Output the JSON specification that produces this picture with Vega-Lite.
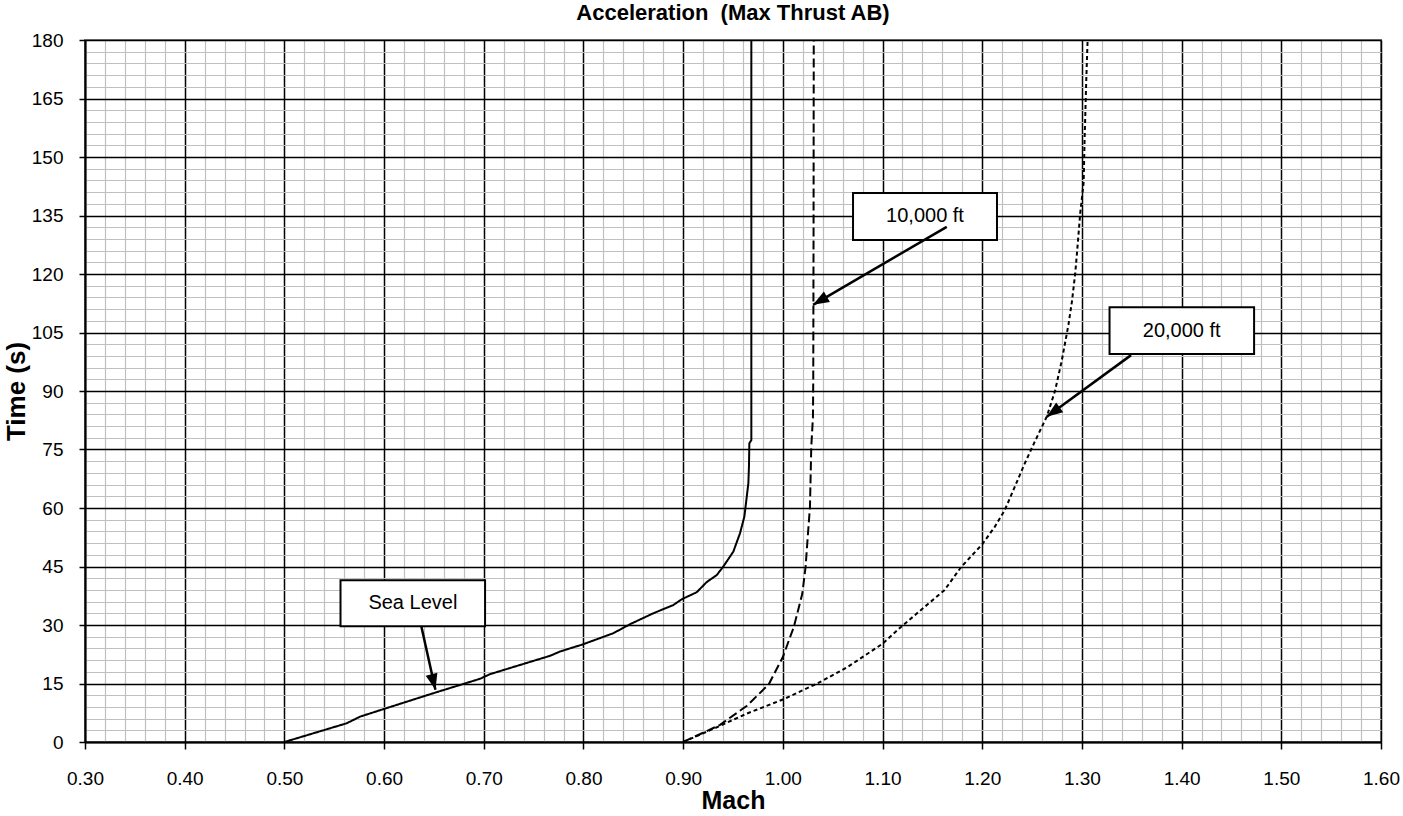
{
  "$schema": "https://vega.github.io/schema/vega-lite/v6.json",
  "width": 1296,
  "height": 702,
  "autosize": {"type": "none"},
  "padding": {"left": 85, "top": 40, "right": 22, "bottom": 74},
  "background": "white",
  "config": {
    "view": {"stroke": "#808080", "strokeWidth": 2},
    "font": "Liberation Sans"
  },
  "title": {
    "text": "Acceleration \u00a0(Max Thrust AB)",
    "font": "Liberation Sans",
    "fontSize": 22,
    "fontWeight": "bold",
    "color": "black",
    "anchor": "middle",
    "frame": "group",
    "offset": 6
  },
  "datasets": {
    "curves": [
      {"series": "Sea Level", "mach": 0.50, "t": 0},
      {"series": "Sea Level", "mach": 0.5625, "t": 4.8},
      {"series": "Sea Level", "mach": 0.5759, "t": 6.5},
      {"series": "Sea Level", "mach": 0.599, "t": 8.4},
      {"series": "Sea Level", "mach": 0.653, "t": 12.8},
      {"series": "Sea Level", "mach": 0.6962, "t": 16.2},
      {"series": "Sea Level", "mach": 0.7063, "t": 17.4},
      {"series": "Sea Level", "mach": 0.7665, "t": 22.1},
      {"series": "Sea Level", "mach": 0.7765, "t": 23.2},
      {"series": "Sea Level", "mach": 0.799, "t": 25.0},
      {"series": "Sea Level", "mach": 0.830, "t": 27.9},
      {"series": "Sea Level", "mach": 0.8467, "t": 30.2},
      {"series": "Sea Level", "mach": 0.870, "t": 33.0},
      {"series": "Sea Level", "mach": 0.890, "t": 35.1},
      {"series": "Sea Level", "mach": 0.8986, "t": 36.6},
      {"series": "Sea Level", "mach": 0.9136, "t": 38.4},
      {"series": "Sea Level", "mach": 0.9236, "t": 41.0},
      {"series": "Sea Level", "mach": 0.9337, "t": 42.8},
      {"series": "Sea Level", "mach": 0.9403, "t": 45.0},
      {"series": "Sea Level", "mach": 0.9503, "t": 48.8},
      {"series": "Sea Level", "mach": 0.957, "t": 53.5},
      {"series": "Sea Level", "mach": 0.9614, "t": 57.8},
      {"series": "Sea Level", "mach": 0.963, "t": 61.2},
      {"series": "Sea Level", "mach": 0.9654, "t": 66.3},
      {"series": "Sea Level", "mach": 0.966, "t": 70.6},
      {"series": "Sea Level", "mach": 0.9664, "t": 76.6},
      {"series": "Sea Level", "mach": 0.9684, "t": 77.4},
      {"series": "Sea Level", "mach": 0.9684, "t": 180},
      {"series": "10,000 ft", "mach": 0.90, "t": 0},
      {"series": "10,000 ft", "mach": 0.937, "t": 4.4},
      {"series": "10,000 ft", "mach": 0.964, "t": 9.3},
      {"series": "10,000 ft", "mach": 0.9859, "t": 14.8},
      {"series": "10,000 ft", "mach": 1.00, "t": 21.8},
      {"series": "10,000 ft", "mach": 1.011, "t": 29.5},
      {"series": "10,000 ft", "mach": 1.0195, "t": 38.0},
      {"series": "10,000 ft", "mach": 1.0228, "t": 44.9},
      {"series": "10,000 ft", "mach": 1.0252, "t": 53.4},
      {"series": "10,000 ft", "mach": 1.0272, "t": 60.3},
      {"series": "10,000 ft", "mach": 1.0285, "t": 75.6},
      {"series": "10,000 ft", "mach": 1.0302, "t": 83.3},
      {"series": "10,000 ft", "mach": 1.0305, "t": 92.7},
      {"series": "10,000 ft", "mach": 1.0308, "t": 130},
      {"series": "10,000 ft", "mach": 1.031, "t": 180},
      {"series": "20,000 ft", "mach": 0.90, "t": 0},
      {"series": "20,000 ft", "mach": 0.9305, "t": 3.4},
      {"series": "20,000 ft", "mach": 0.964, "t": 7.3},
      {"series": "20,000 ft", "mach": 1.00, "t": 10.9},
      {"series": "20,000 ft", "mach": 1.0346, "t": 15.0},
      {"series": "20,000 ft", "mach": 1.0648, "t": 19.2},
      {"series": "20,000 ft", "mach": 1.10, "t": 25.2},
      {"series": "20,000 ft", "mach": 1.1185, "t": 29.5},
      {"series": "20,000 ft", "mach": 1.142, "t": 34.6},
      {"series": "20,000 ft", "mach": 1.162, "t": 38.9},
      {"series": "20,000 ft", "mach": 1.179, "t": 44.9},
      {"series": "20,000 ft", "mach": 1.20, "t": 50.7},
      {"series": "20,000 ft", "mach": 1.2124, "t": 55.1},
      {"series": "20,000 ft", "mach": 1.2225, "t": 59.4},
      {"series": "20,000 ft", "mach": 1.2326, "t": 65.4},
      {"series": "20,000 ft", "mach": 1.2426, "t": 71.4},
      {"series": "20,000 ft", "mach": 1.2527, "t": 77.0},
      {"series": "20,000 ft", "mach": 1.2647, "t": 83.4},
      {"series": "20,000 ft", "mach": 1.273, "t": 90.0},
      {"series": "20,000 ft", "mach": 1.2798, "t": 97.8},
      {"series": "20,000 ft", "mach": 1.2865, "t": 107.0},
      {"series": "20,000 ft", "mach": 1.29, "t": 113.0},
      {"series": "20,000 ft", "mach": 1.2933, "t": 120.2},
      {"series": "20,000 ft", "mach": 1.2957, "t": 127.4},
      {"series": "20,000 ft", "mach": 1.2983, "t": 135.6},
      {"series": "20,000 ft", "mach": 1.3017, "t": 143.4},
      {"series": "20,000 ft", "mach": 1.3027, "t": 154.6},
      {"series": "20,000 ft", "mach": 1.3043, "t": 169.3},
      {"series": "20,000 ft", "mach": 1.3057, "t": 180}
    ],
    "boxes": [
      {"label": "Sea Level", "mach": 0.5563, "mach2": 0.7013, "t": 29.7, "t2": 41.5, "tx": 0.6289, "ty": 35.6},
      {"label": "10,000 ft", "mach": 1.0704, "mach2": 1.2148, "t": 128.7, "t2": 140.8, "tx": 1.1426, "ty": 134.8},
      {"label": "20,000 ft", "mach": 1.3277, "mach2": 1.4727, "t": 99.5, "t2": 111.5, "tx": 1.4001, "ty": 105.5}
    ],
    "arrows": [
      {"label": "Sea Level", "mach": 0.6374, "t": 29.6, "mach2": 0.6515, "t2": 13.4},
      {"label": "10,000 ft", "mach": 1.1644, "t": 132.1, "mach2": 1.0303, "t2": 112.1},
      {"label": "20,000 ft", "mach": 1.3493, "t": 99.2, "mach2": 1.2647, "t2": 83.4}
    ]
  },
  "layer": [
    {
      "data": {"name": "curves"},
      "mark": {"type": "line", "color": "black", "strokeWidth": 2},
      "encoding": {
        "x": {
          "field": "mach", "type": "quantitative",
          "scale": {"domain": [0.3, 1.6], "nice": false, "zero": false},
          "axis": {
            "title": "Mach",
            "tickCount": 500,
            "values": [0.3,0.32,0.34,0.36,0.38,0.4,0.42,0.44,0.46,0.48,0.5,0.52,0.54,0.56,0.58,0.6,0.62,0.64,0.66,0.68,0.7,0.72,0.74,0.76,0.78,0.8,0.82,0.84,0.86,0.88,0.9,0.92,0.94,0.96,0.98,1,1.02,1.04,1.06,1.08,1.1,1.12,1.14,1.16,1.18,1.2,1.22,1.24,1.26,1.28,1.3,1.32,1.34,1.36,1.38,1.4,1.42,1.44,1.46,1.48,1.5,1.52,1.54,1.56,1.58,1.6],
            "labelExpr": "abs(datum.value*10 - round(datum.value*10)) < 0.001 ? format(datum.value, '.2f') : ''",
            "labelOverlap": false,
            "labelFlush": false,
            "labelBound": false,
            "grid": true,
            "gridColor": {"condition": {"test": "abs(datum.value*10 - round(datum.value*10)) < 0.001", "value": "black"}, "value": "#c0c0c0"},
            "gridWidth": {"condition": {"test": "abs(datum.value*10 - round(datum.value*10)) < 0.001", "value": 1.5}, "value": 1.2},
            "tickColor": {"condition": {"test": "abs(datum.value*10 - round(datum.value*10)) < 0.001", "value": "black"}, "value": "transparent"},
            "tickSize": 7,
            "tickWidth": 1.5,
            "domainColor": "black",
            "domainWidth": 2,
            "labelFont": "Liberation Sans",
            "labelFontSize": 19,
            "labelColor": "black",
            "labelPadding": 20,
            "titleFont": "Liberation Sans",
            "titleFontSize": 25,
            "titleFontWeight": "bold",
            "titleColor": "black",
            "titlePadding": 0
          }
        },
        "y": {
          "field": "t", "type": "quantitative",
          "scale": {"domain": [0, 180], "nice": false, "zero": false},
          "axis": {
            "title": "Time (s)",
            "tickCount": 500,
            "values": [0,3,6,9,12,15,18,21,24,27,30,33,36,39,42,45,48,51,54,57,60,63,66,69,72,75,78,81,84,87,90,93,96,99,102,105,108,111,114,117,120,123,126,129,132,135,138,141,144,147,150,153,156,159,162,165,168,171,174,177,180],
            "labelExpr": "datum.value % 15 === 0 ? format(datum.value, 'd') : ''",
            "labelOverlap": false,
            "labelFlush": false,
            "labelBound": false,
            "grid": true,
            "gridColor": {"condition": {"test": "datum.value % 15 === 0", "value": "black"}, "value": "#c0c0c0"},
            "gridWidth": {"condition": {"test": "datum.value % 15 === 0", "value": 1.5}, "value": 1.2},
            "tickColor": {"condition": {"test": "datum.value % 15 === 0", "value": "black"}, "value": "transparent"},
            "tickSize": 6,
            "tickWidth": 1.5,
            "domainColor": "black",
            "domainWidth": 2,
            "labelFont": "Liberation Sans",
            "labelFontSize": 19,
            "labelColor": "black",
            "labelPadding": 16,
            "titleFont": "Liberation Sans",
            "titleFontSize": 26,
            "titleFontWeight": "bold",
            "titleColor": "black",
            "titlePadding": 2
          }
        },
        "strokeDash": {
          "field": "series", "type": "nominal",
          "scale": {"domain": ["Sea Level", "10,000 ft", "20,000 ft"], "range": [[1, 0], [9, 4], [4, 3]]},
          "legend": null
        },
        "order": {"field": "t", "type": "quantitative"}
      }
    },
    {
      "data": {"name": "boxes"},
      "mark": {"type": "rect", "fill": "white", "stroke": "black", "strokeWidth": 2},
      "encoding": {
        "x": {"field": "mach", "type": "quantitative"},
        "x2": {"field": "mach2"},
        "y": {"field": "t", "type": "quantitative"},
        "y2": {"field": "t2"}
      }
    },
    {
      "data": {"name": "boxes"},
      "mark": {"type": "text", "font": "Liberation Sans", "fontSize": 20, "color": "black", "align": "center", "baseline": "middle"},
      "encoding": {
        "x": {"field": "tx", "type": "quantitative"},
        "y": {"field": "ty", "type": "quantitative"},
        "text": {"field": "label"}
      }
    },
    {
      "data": {"name": "arrows"},
      "mark": {"type": "rule", "color": "black", "strokeWidth": 2.5},
      "encoding": {
        "x": {"field": "mach", "type": "quantitative"},
        "y": {"field": "t", "type": "quantitative"},
        "x2": {"field": "mach2"},
        "y2": {"field": "t2"}
      }
    },
    {
      "data": {"name": "arrows"},
      "mark": {"type": "point", "shape": "M0,0L-0.6,1.6L0.6,1.6Z", "filled": true, "color": "black", "size": 400, "opacity": 1, "strokeWidth": 0},
      "encoding": {
        "x": {"field": "mach2", "type": "quantitative"},
        "y": {"field": "t2", "type": "quantitative"},
        "angle": {
          "condition": [
            {"test": "datum.label === 'Sea Level'", "value": 166},
            {"test": "datum.label === '10,000 ft'", "value": 240}
          ],
          "value": 234
        }
      }
    }
  ]
}
